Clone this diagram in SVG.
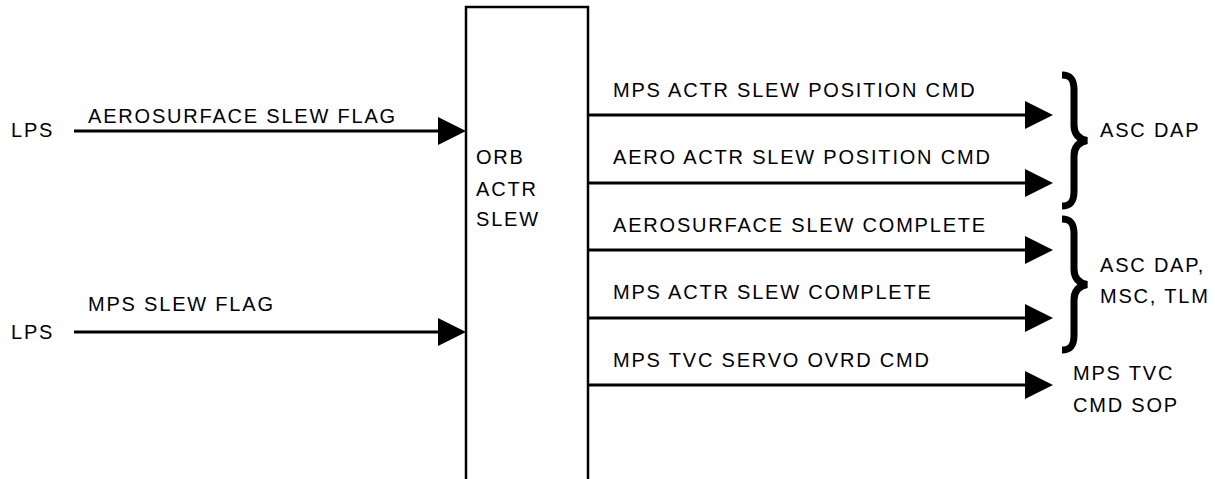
<svg xmlns="http://www.w3.org/2000/svg" width="1215" height="479" viewBox="0 0 1215 479">
<style>
text{font-family:"Liberation Sans",Arial,sans-serif;font-size:20px;letter-spacing:1.8px;fill:#000}
.ln{stroke:#000;stroke-width:3;fill:none}
.box{stroke:#000;stroke-width:2.5;fill:#fff}
.brace{stroke:#000;stroke-width:7;fill:none}
</style>
<defs>
<marker id="ah" markerUnits="userSpaceOnUse" markerWidth="28" markerHeight="30" refX="22" refY="15" orient="auto">
<path d="M0,1 L28,15 L0,29 Z" fill="#000"/>
</marker>
<path id="br" class="brace" d="M1062,75 C1071,75 1074,80 1074,90 L1074,125 C1074,134 1079,139 1087,140.5 C1079,142 1074,147 1074,156 L1074,191 C1074,201 1071,206 1062,206"/>
</defs>
<rect width="1215" height="479" fill="#fff"/>
<g id="node-orb">
<rect class="box" x="466" y="7" width="122" height="485"/>
<text x="476" y="164">ORB</text>
<text x="476" y="196">ACTR</text>
<text x="476" y="226">SLEW</text>
</g>
<g id="node-lps1"><text x="11" y="137">LPS</text></g>
<g id="node-lps2"><text x="11" y="339">LPS</text></g>
<g id="node-ascdap">
<use href="#br"/>
<text x="1100" y="137">ASC DAP</text>
</g>
<g id="node-ascdap-msc-tlm">
<use href="#br" transform="translate(0,144)"/>
<text x="1100" y="272">ASC DAP,</text>
<text x="1100" y="303">MSC, TLM</text>
</g>
<g id="node-mpstvc">
<text x="1073" y="380">MPS TVC</text>
<text x="1073" y="412">CMD SOP</text>
</g>
<g id="connectors">
<line class="ln" x1="74" y1="131" x2="460" y2="131" marker-end="url(#ah)"/>
<text x="88" y="123">AEROSURFACE SLEW FLAG</text>
<line class="ln" x1="74" y1="332" x2="460" y2="332" marker-end="url(#ah)"/>
<text x="88" y="311">MPS SLEW FLAG</text>
<line class="ln" x1="588" y1="115" x2="1047" y2="115" marker-end="url(#ah)"/>
<text x="613" y="97">MPS ACTR SLEW POSITION CMD</text>
<line class="ln" x1="588" y1="183" x2="1047" y2="183" marker-end="url(#ah)"/>
<text x="613" y="164">AERO ACTR SLEW POSITION CMD</text>
<line class="ln" x1="588" y1="250" x2="1047" y2="250" marker-end="url(#ah)"/>
<text x="613" y="232">AEROSURFACE SLEW COMPLETE</text>
<line class="ln" x1="588" y1="318" x2="1047" y2="318" marker-end="url(#ah)"/>
<text x="613" y="299">MPS ACTR SLEW COMPLETE</text>
<line class="ln" x1="588" y1="385" x2="1047" y2="385" marker-end="url(#ah)"/>
<text x="613" y="367">MPS TVC SERVO OVRD CMD</text>
</g>
</svg>
